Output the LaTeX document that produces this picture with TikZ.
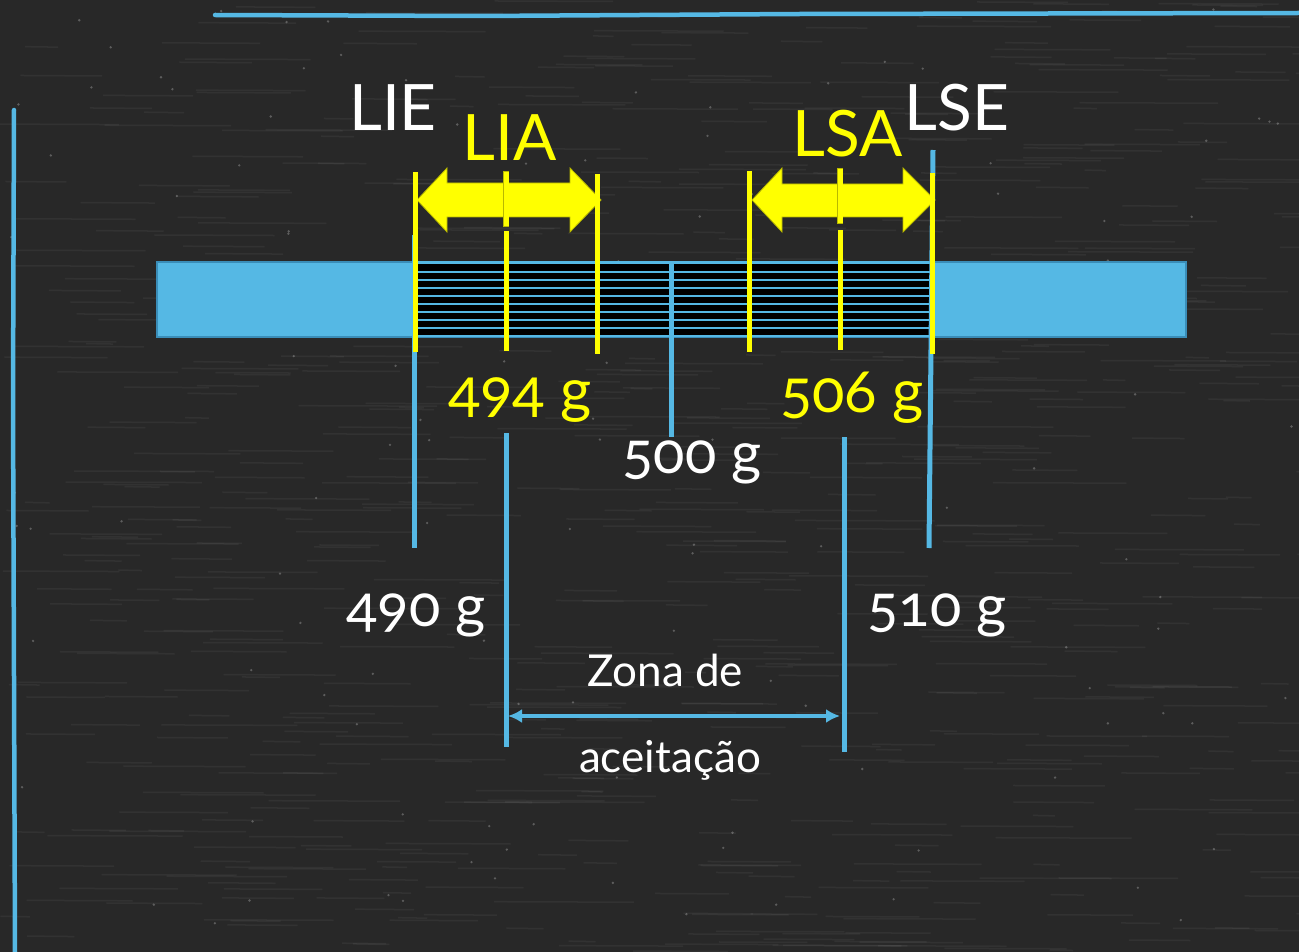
\documentclass[tikz,border=0pt]{standalone}
\usepackage{fontspec}
\setmainfont{Lato}[Numbers=OldStyle]
\usetikzlibrary{arrows.meta}
\definecolor{board}{HTML}{282828}
\definecolor{skyb}{HTML}{55B8E4}
\definecolor{skyd}{HTML}{3A8DB8}
\definecolor{yel}{HTML}{FFFF00}
\definecolor{yeld}{HTML}{B8B800}
\begin{document}
\begin{tikzpicture}[x=1pt,y=-1pt,
  chalk/.style={draw=skyb,line width=4.5pt,line cap=round},
  bluev/.style={draw=skyb,line width=5pt},
  yelv/.style={draw=yel,line width=5pt},
  fat/.style={fill=yel,draw=yeld,line width=0.8pt,line join=miter},
  wlab/.style={text=white,font=\fontsize{64}{70}\selectfont,inner sep=0pt},
  wnum/.style={text=white,font=\fontsize{58}{64}\selectfont,inner sep=0pt},
  ylab/.style={text=yel,font=\fontsize{64}{70}\selectfont,inner sep=0pt},
  ynum/.style={text=yel,font=\fontsize{60}{66}\selectfont,inner sep=0pt},
  zlab/.style={text=white,font=\fontsize{44}{50}\selectfont,inner sep=0pt}]
\useasboundingbox (0,0) rectangle (1299,952);
\fill[board] (0,0) rectangle (1299,952);
% chalkboard texture
\pgfmathsetseed{7}
\foreach \i in {1,...,700}{
  \pgfmathsetmacro{\xa}{rnd*1299}
  \pgfmathsetmacro{\ya}{rnd*952}
  \pgfmathsetmacro{\ll}{20+rnd*120}
  \draw[white,opacity=0.05,line width=1.5pt] (\xa,\ya) -- ++(\ll,0.5);
}
\foreach \i in {1,...,120}{
  \pgfmathsetmacro{\xa}{rnd*1299}
  \pgfmathsetmacro{\ya}{rnd*952}
  \fill[white,opacity=0.25] (\xa,\ya) circle (1.3pt);
}
% frame strokes
\coordinate (tl) at (215,15);
\coordinate (tr) at (1299,13);
\coordinate (lt) at (14,110);
\coordinate (lb) at (15,952);
\draw[chalk] (tl) -- (480,16) -- (800,14) -- (tr);
\draw[chalk] (lt) -- (13,400) -- (lb);
% bar
\coordinate (barA) at (157,262);
\coordinate (barB) at (1186,337);
\fill[skyb,draw=skyd,line width=2pt] (barA) rectangle (barB);
\fill[black] (416,264) rectangle (930,335);
\foreach \yy in {262,272,280,288,296,304,312,320,328,336}
  \draw[skyb,line width=2.5pt] (416,\yy) -- (930,\yy);
% blue verticals
\coordinate (b1t) at (414,235); \coordinate (b1b) at (414,548);
\coordinate (b2t) at (933,150); \coordinate (b2b) at (929,548);
\coordinate (b3t) at (671,262); \coordinate (b3b) at (671,437);
\coordinate (b4t) at (506,433); \coordinate (b4b) at (506,747);
\coordinate (b5t) at (844,437); \coordinate (b5b) at (844,752);
\draw[bluev] (b1t) -- (b1b);
\draw[bluev] (b2t) -- (b2b);
\draw[bluev] (b3t) -- (b3b);
\draw[bluev] (b4t) -- (b4b);
\draw[bluev] (b5t) -- (b5b);
% fat yellow arrows
\draw[fat] (417,200) -- (447,168) -- (447,183) -- (570,183) -- (570,168) -- (601,200)
  -- (570,232) -- (570,217) -- (447,217) -- (447,232) -- cycle;
\draw[fat] (752,200) -- (782,168) -- (782,184) -- (903,184) -- (903,168) -- (935,200)
  -- (903,232) -- (903,217) -- (782,217) -- (782,232) -- cycle;
% yellow verticals
\coordinate (y1t) at (415,172); \coordinate (y1b) at (415,352);
\coordinate (y3t) at (597,174); \coordinate (y3b) at (597,354);
\coordinate (y4t) at (749,171); \coordinate (y4b) at (749,352);
\coordinate (y6t) at (932,173); \coordinate (y6b) at (932,354);
\draw[yelv] (y1t) -- (y1b);
\draw[yelv] (y3t) -- (y3b);
\draw[yelv] (y4t) -- (y4b);
\draw[yelv] (y6t) -- (y6b);
\coordinate (y2t) at (506,171); \coordinate (y2m) at (506,227);
\coordinate (y2n) at (506,231); \coordinate (y2b) at (506,351);
\coordinate (y5t) at (840,168); \coordinate (y5m) at (840,224);
\coordinate (y5n) at (840,230); \coordinate (y5b) at (840,350);
\draw[draw=yeld,line width=6.5pt] (y2t) -- (y2m);
\draw[yelv] (506,172) -- (506,226);
\draw[yelv] (y2n) -- (y2b);
\draw[draw=yeld,line width=6.5pt] (y5t) -- (y5m);
\draw[yelv] (840,169) -- (840,223);
\draw[yelv] (y5n) -- (y5b);
% acceptance zone arrow
\coordinate (zl) at (508,716);
\coordinate (zr) at (840,716);
\draw[skyb,line width=4pt,{Latex[length=14pt,width=14pt]}-{Latex[length=14pt,width=14pt]}] (zl) -- (zr);
% labels
\node[wlab] (lie) at (393,108) {LIE};
\node[ylab] (lia) at (510,138) {LIA};
\node[ylab] (lsa) at (848,134) {LSA};
\node[wlab] (lse) at (957,108) {LSE};
\node[ynum] (g494) at (520,400) {494 g};
\node[ynum] (g506) at (852,398) {506 g};
\node[wnum] (g500) at (692,462) {500 g};
\node[wnum] (g490) at (416,615) {490 g};
\node[wnum] (g510) at (937,615) {510 g};
\node[zlab] (zona) at (665,670) {Zona de};
\node[zlab] (acei) at (670,760) {aceitação};
\end{tikzpicture}
\end{document}
